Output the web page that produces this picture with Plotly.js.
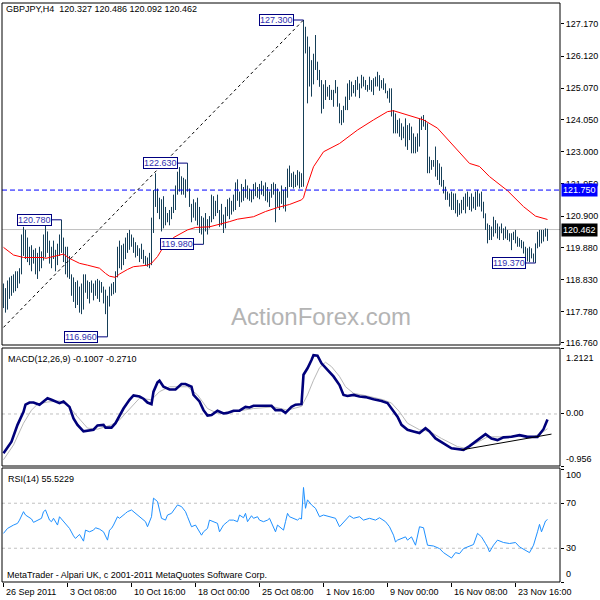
<!DOCTYPE html>
<html><head><meta charset="utf-8">
<script src="https://cdn.plot.ly/plotly-3.0.1.min.js"></script>
<style>html,body{margin:0;padding:0;background:#fff}#chart{width:600px;height:600px}</style>
</head><body><div id="chart"></div>
<script>
// ---------- data ----------
const HIGH = [
118.70,118.55,118.80,118.90,118.95,119.00,119.10,119.10,119.20,120.30,
120.55,120.45,120.20,119.90,119.95,119.80,119.85,119.70,119.90,119.75,
120.30,120.78,120.40,120.10,119.90,120.10,119.80,120.00,120.30,120.78,
120.20,119.90,119.90,119.60,119.00,118.90,118.75,118.80,118.60,118.70,
119.00,119.00,118.80,118.75,118.80,118.70,118.80,118.85,118.80,118.75,
118.60,118.50,118.30,118.60,118.70,118.75,119.10,119.90,120.10,119.95,
120.00,120.20,120.35,120.45,120.30,120.20,120.05,119.95,119.85,120.00,
119.80,119.60,119.55,119.70,120.85,121.75,122.30,121.80,121.50,121.45,
121.55,121.20,121.00,121.10,121.20,121.60,121.90,122.35,122.50,122.20,
122.15,122.10,122.63,121.80,121.30,121.45,121.35,121.50,121.20,120.90,
120.85,121.00,120.80,120.90,121.60,121.55,121.40,121.60,121.10,121.30,
120.95,121.20,121.45,121.50,121.40,121.60,122.00,122.10,121.70,121.95,
121.85,122.10,121.90,121.80,121.75,121.95,122.00,121.85,121.95,122.05,
121.90,122.00,121.85,121.70,121.95,122.00,121.95,121.80,121.70,121.90,
121.75,121.85,122.45,122.55,122.30,122.35,122.25,122.40,122.35,122.30,
127.30,127.08,126.76,126.43,125.99,126.20,126.81,125.94,125.67,125.34,
125.20,125.34,125.12,125.18,125.02,125.02,125.34,125.12,124.58,124.36,
124.50,124.80,125.23,125.34,125.29,125.18,125.34,125.45,125.23,125.51,
125.45,125.34,125.18,125.45,125.34,125.40,125.45,125.61,125.50,125.34,
125.40,125.23,124.99,125.07,125.07,124.36,124.25,124.04,124.09,123.93,
123.82,124.09,123.87,123.93,123.82,123.60,123.49,123.60,124.09,124.15,
124.20,124.04,123.93,122.84,122.73,122.73,123.17,122.73,122.62,122.51,
122.08,121.86,121.70,121.64,121.70,121.64,121.64,121.43,121.32,121.43,
121.53,121.64,121.70,121.53,121.64,121.53,121.70,121.75,121.64,121.70,
121.37,120.99,120.66,120.61,120.56,120.88,120.77,120.66,120.56,120.66,
120.50,120.56,120.45,120.34,120.34,120.39,120.45,120.23,120.18,120.12,
120.07,119.90,119.85,119.90,119.85,119.68,120.01,120.39,120.45,120.45,
120.45,120.50,120.486];
const LOW = [
117.90,117.75,117.85,118.20,118.30,118.40,118.45,118.55,118.70,119.00,
119.60,119.50,119.40,119.30,119.10,119.35,119.00,118.85,119.10,119.20,
119.45,119.55,119.70,119.35,119.20,119.50,119.10,119.30,119.60,119.70,
119.40,119.00,118.90,118.85,118.30,118.10,117.90,118.00,117.75,117.70,
117.85,118.40,118.20,118.05,118.40,118.15,118.30,118.20,118.10,118.40,
118.05,117.70,116.96,117.95,118.30,118.35,118.40,118.90,119.20,119.15,
119.30,119.50,119.70,119.80,119.90,119.70,119.55,119.60,119.40,119.50,
119.35,119.30,119.25,119.20,119.30,120.35,121.20,121.00,120.80,120.40,
120.50,120.60,120.70,120.60,120.80,121.00,121.10,121.60,121.70,121.60,
121.60,121.50,121.70,121.20,120.70,120.85,120.75,120.60,120.35,120.30,
119.98,120.40,120.30,120.50,120.70,120.80,120.90,121.00,120.55,120.60,
120.35,120.50,120.90,120.80,120.95,121.05,121.10,121.40,121.20,121.35,
121.40,121.50,121.45,121.40,121.35,121.45,121.55,121.50,121.45,121.60,
121.55,121.40,121.35,121.20,121.50,121.60,120.70,121.20,121.10,121.30,
121.15,121.05,121.50,121.85,121.85,121.80,121.85,121.90,121.80,121.85,
121.86,126.21,124.58,125.13,124.80,125.20,125.67,125.34,125.12,124.25,
124.40,124.69,124.80,124.69,124.69,124.47,124.91,124.47,123.93,123.87,
123.95,124.36,124.36,124.69,124.80,124.91,124.80,125.02,124.75,125.07,
125.13,125.02,124.96,125.02,124.96,124.85,125.13,125.13,124.99,125.07,
125.02,124.91,124.74,124.60,124.15,123.60,123.60,123.60,123.49,123.38,
123.44,123.17,123.06,123.38,122.95,122.95,122.95,123.00,123.17,123.71,
123.82,123.71,122.30,122.30,122.41,122.51,122.19,122.08,121.92,121.86,
121.64,121.43,121.43,121.21,121.10,121.10,120.99,120.88,120.94,120.99,
121.10,120.99,121.21,121.10,121.05,121.15,121.10,121.21,121.21,121.05,
120.83,120.45,120.01,120.12,120.12,120.23,120.34,120.17,120.12,120.34,
120.12,120.17,120.12,120.07,119.79,120.12,120.01,119.90,119.90,119.85,
119.68,119.47,119.42,119.40,119.52,119.39,119.37,119.85,119.90,120.01,
120.07,120.23,120.092];

const MA_BAR = [0,5,10,20,21,27,30,33,38,42,48,51,53,56,58,62,65,68,72,74,77,80,85,92,96,103,108,113,117,125,131,137,143,149,150,151,155,160,168,177,185,192,195,202,210,217,223,233,238,243,252,260,266,271,272];
const MA_VAL = [119.88,119.63,119.55,119.55,119.52,119.63,119.66,119.52,119.36,119.30,119.20,119.03,118.94,118.90,119.01,119.16,119.25,119.27,119.30,119.36,119.58,119.90,120.20,120.45,120.53,120.55,120.63,120.72,120.80,120.88,121.05,121.18,121.28,121.43,121.50,121.74,122.51,123.00,123.27,123.71,124.04,124.31,124.34,124.20,124.04,123.77,123.35,122.62,122.52,122.19,121.73,121.21,120.90,120.81,120.79];

const MACD_BAR = [0,4,7,10,11,13,15,18,20,22,24,26,28,30,33,35,37,40,42,45,47,50,51,54,56,58,60,63,65,68,70,72,74,75,77,78,80,83,86,89,91,94,95,98,100,102,104,107,110,112,115,118,121,123,125,130,134,136,139,141,144,146,149,150,152,154,155,157,159,162,165,168,170,172,175,178,181,185,189,192,194,197,199,202,205,208,211,213,216,220,224,230,233,237,241,244,247,250,254,258,262,267,270,272];
const MACD_VAL = [-0.72,-0.51,-0.20,0.04,0.17,0.21,0.21,0.17,0.23,0.29,0.26,0.23,0.20,0.23,0.13,-0.08,-0.20,-0.32,-0.31,-0.29,-0.21,-0.20,-0.25,-0.25,-0.17,-0.02,0.10,0.26,0.34,0.32,0.28,0.21,0.18,0.41,0.58,0.61,0.50,0.45,0.45,0.55,0.55,0.50,0.35,0.23,0.07,-0.03,-0.02,0.06,0.01,0.02,0.06,0.06,0.13,0.12,0.15,0.15,0.15,0.07,0.07,0.02,0.13,0.17,0.18,0.72,0.84,0.99,1.08,1.07,0.93,0.81,0.69,0.53,0.35,0.33,0.35,0.32,0.31,0.27,0.24,0.20,0.10,-0.05,-0.20,-0.29,-0.32,-0.35,-0.26,-0.32,-0.45,-0.54,-0.63,-0.66,-0.59,-0.48,-0.37,-0.45,-0.48,-0.43,-0.42,-0.39,-0.42,-0.42,-0.28,-0.10];

const SIG_BAR = [0,5,10,14,17,22,28,32,37,42,47,54,58,63,68,74,78,83,92,97,102,107,115,125,135,142,149,152,155,158,161,164,168,171,175,182,190,194,198,202,208,213,219,227,231,236,242,248,257,265,269,272];
const SIG_VAL = [-0.84,-0.57,-0.17,0.07,0.18,0.22,0.24,0.17,-0.05,-0.26,-0.28,-0.20,-0.11,0.10,0.29,0.26,0.41,0.50,0.50,0.35,0.10,0.01,0.04,0.10,0.13,0.07,0.14,0.35,0.62,0.85,0.95,0.87,0.69,0.50,0.38,0.33,0.26,0.20,0.04,-0.17,-0.29,-0.32,-0.45,-0.60,-0.63,-0.54,-0.42,-0.42,-0.40,-0.42,-0.35,-0.27];

const RSI_BAR = [0,2,5,7,8,10,11,13,14,15,17,19,20,21,23,24,25,27,28,30,31,33,35,36,38,40,41,43,45,46,48,50,52,53,54,55,57,58,61,62,64,66,68,71,72,74,75,77,78,79,81,82,84,86,87,89,91,92,94,96,97,99,100,102,103,105,107,108,110,112,113,115,117,118,120,121,122,124,125,127,128,130,132,133,135,136,137,138,140,141,142,143,145,147,148,149,150,151,152,154,156,158,160,163,166,168,171,173,175,178,180,183,186,188,191,193,195,196,197,199,201,202,204,206,208,210,212,215,218,220,224,226,228,230,233,235,237,239,241,242,243,245,247,250,253,256,258,261,263,265,266,267,268,269,271,272];
const RSI_VAL = [43.2,47.6,50.6,52.1,55,62.5,59.5,56.6,56,53,55,56.6,62.5,64,55,53.6,56.6,50.6,58,53.6,52.1,47.6,41,38.7,42.3,36.3,46.1,44.6,46.1,48.2,47,44.6,37.2,46.1,47.6,50.6,58,56.6,61,62.5,64,61,58,53.6,49.1,58,74.5,71.5,64,56.6,55,59.5,61,65.5,68.5,67,62.5,58,49.1,50.6,47.6,41.6,44.6,47.6,55,53.6,52.1,44.6,50.6,53.6,55,55,53.6,59.5,57.1,61,53.6,58.9,56.6,58,55,53.6,55,56.6,49.1,44.6,50.6,49.1,46.1,53.6,61,58,56.6,55,56.6,56,84,65.5,73,68.5,65.5,58,59.5,58,56.6,49.1,55,58.9,56.6,58,55,56.6,55,57.1,53.6,49.1,41.6,35.6,37.2,38.7,40.1,37.2,40.1,32.7,49.1,48.2,32.7,32,29.7,26.1,21.3,26.1,25.2,29.7,32,33.3,43.2,40.1,34.2,31.2,26.7,32.7,37.2,35.1,34.2,35.1,31.2,28.2,26.1,32.7,38,44.6,51.2,44.6,54.2,55.5];

const DATE_TICK_BARS = [0,32,64,96,128,160,192,224,256];
const DATE_LABELS = ['26 Sep 2011','3 Oct 08:00','10 Oct 16:00','18 Oct 00:00','25 Oct 08:00','1 Nov 16:00','9 Nov 00:00','16 Nov 08:00','23 Nov 16:00'];
const PRICE_TICKS = [127.170,126.120,125.070,124.050,123.000,121.950,120.900,119.880,118.830,117.780,116.760];
const MACD_TICKS = [1.2121,0,-0.956];
const MACD_TICK_TEXT = ['1.2121','0.00','-0.956'];
const RSI_TICKS = [100,70,30,0];

const MARK_BARS = [29,52,92,100,150,266];
const MARK_PRICES = [120.780,116.960,122.630,119.980,127.300,119.370];

const LAST_OPEN = 120.327, LAST_HIGH = 120.486, LAST_LOW = 120.092, LAST_CLOSE = 120.462;
const HLINE_PRICE = 121.750;
const TREND_BARS = [0,150], TREND_PRICES = [117.27,127.30];
const MACD_TREND_BARS = [229,274], MACD_TREND_VALS = [-0.66,-0.37];
const MACD_NOW = -0.1007, SIGNAL_NOW = -0.2710, RSI_NOW = 55.5229;

// ---------- layout helpers ----------
const L = 2, T = 3, W = 558, H = 579;
const px = x => (x - L) / W;
const py = y => (T + H - y) / H;
const FONT = 'Liberation Sans, Arial, sans-serif';

// bars (high-low verticals)
const bx = [], by = [];
for (let i = 0; i < HIGH.length; i++) { bx.push(i, i, null); by.push(LOW[i], HIGH[i], null); }

const traces = [
  {type:'scatter', mode:'lines', x:bx, y:by, xaxis:'x', yaxis:'y', line:{color:'#163f58', width:1}, hoverinfo:'skip'},
  {type:'scatter', mode:'lines', x:MA_BAR, y:MA_VAL, xaxis:'x', yaxis:'y', line:{color:'#ff0000', width:1}, hoverinfo:'skip'},
  {type:'scatter', mode:'lines', x:SIG_BAR, y:SIG_VAL, xaxis:'x', yaxis:'y2', line:{color:'#b8b8b8', width:1}, hoverinfo:'skip'},
  {type:'scatter', mode:'lines', x:MACD_BAR, y:MACD_VAL, xaxis:'x', yaxis:'y2', line:{color:'#00007a', width:2.6}, hoverinfo:'skip'},
  {type:'scatter', mode:'lines', x:RSI_BAR, y:RSI_VAL, xaxis:'x', yaxis:'y3', line:{color:'#1e90ff', width:1}, hoverinfo:'skip'}
];

const shapes = [
  {type:'line', xref:'paper', x0:0, x1:1, yref:'y', y0:LAST_CLOSE, y1:LAST_CLOSE, line:{color:'#c0c0c0', width:1}, layer:'below'},
  {type:'line', xref:'paper', x0:0, x1:1, yref:'y', y0:HLINE_PRICE, y1:HLINE_PRICE, line:{color:'#0000ff', width:1, dash:'5px,3px'}},
  {type:'line', xref:'x', x0:TREND_BARS[0], x1:TREND_BARS[1], yref:'y', y0:TREND_PRICES[0], y1:TREND_PRICES[1], line:{color:'#000', width:1, dash:'3px,3px'}},
  {type:'line', xref:'paper', x0:0, x1:1, yref:'y2', y0:0, y1:0, line:{color:'#c0c0c0', width:1, dash:'3px,3px'}, layer:'below'},
  {type:'line', xref:'x', x0:MACD_TREND_BARS[0], x1:MACD_TREND_BARS[1], yref:'y2', y0:MACD_TREND_VALS[0], y1:MACD_TREND_VALS[1], line:{color:'#000', width:1}},
  {type:'line', xref:'paper', x0:0, x1:1, yref:'y3', y0:70, y1:70, line:{color:'#c0c0c0', width:1, dash:'3px,3px'}, layer:'below'},
  {type:'line', xref:'paper', x0:0, x1:1, yref:'y3', y0:30, y1:30, line:{color:'#c0c0c0', width:1, dash:'3px,3px'}, layer:'below'},
  {type:'rect', xref:'paper', x0:0, x1:1, yref:'y domain', y0:0, y1:1, line:{color:'#000', width:1}},
  {type:'rect', xref:'paper', x0:0, x1:1, yref:'y2 domain', y0:0, y1:1, line:{color:'#000', width:1}},
  {type:'rect', xref:'paper', x0:0, x1:1, yref:'y3 domain', y0:0, y1:1, line:{color:'#000', width:1}}
];

const ann = [];
const txt = (text, x, y, opts) => Object.assign({text, x, y, xref:'paper', yref:'paper', xanchor:'left', yanchor:'middle', showarrow:false, font:{family:FONT, size:9, color:'#000'}}, opts || {});

ann.push(txt('GBPJPY,H4\u00a0\u00a0' + [LAST_OPEN, LAST_HIGH, LAST_LOW, LAST_CLOSE].map(v => v.toFixed(3)).join(' '), px(4), py(9)));
ann.push(txt('MACD(12,26,9) ' + MACD_NOW.toFixed(4) + ' ' + SIGNAL_NOW.toFixed(4), px(6), py(359)));
ann.push(txt('RSI(14) ' + RSI_NOW.toFixed(4), px(6), py(478.5)));
ann.push(txt('MetaTrader - Alpari UK, c 2001-2011 MetaQuotes Software Corp.', px(5), py(574.5)));
ann.push(txt('ActionForex.com', px(321), py(316), {xanchor:'center', font:{family:FONT, size:24, color:'#b4b4b4'}}));

// right labels for MACD / RSI panes
const macdLabelY = [358, 413.5, 458.5];
MACD_TICK_TEXT.forEach((t, k) => ann.push(txt(t, px(564), py(macdLabelY[k]))));
const rsiLabelY = [475, 503.3, 548.2, 573.5];
RSI_TICKS.forEach((v, k) => ann.push(txt(String(v), px(564), py(rsiLabelY[k]))));

// date labels
DATE_TICK_BARS.forEach((b, k) => ann.push({text:DATE_LABELS[k], x:b, y:py(592), xref:'x', yref:'paper', xanchor:'left', yanchor:'middle', showarrow:false, font:{family:FONT, size:9, color:'#000'}}));

// price badges on the right axis
ann.push({text:HLINE_PRICE.toFixed(3), x:1, y:HLINE_PRICE, xref:'paper', yref:'y', xanchor:'left', yanchor:'middle', xshift:1, showarrow:false, bgcolor:'#0000ff', borderpad:1, font:{family:FONT, size:9, color:'#fff'}});
ann.push({text:LAST_CLOSE.toFixed(3), x:1, y:LAST_CLOSE, xref:'paper', yref:'y', xanchor:'left', yanchor:'middle', xshift:1, showarrow:false, bgcolor:'#000000', borderpad:1, font:{family:FONT, size:9, color:'#fff'}});

// high/low price markers with connectors
MARK_BARS.forEach((b, k) => {
  const p = MARK_PRICES[k];
  ann.push({text:p.toFixed(3), x:b, y:p, xref:'x', yref:'y', xanchor:'right', yanchor:'middle', xshift:-10, showarrow:false,
            bgcolor:'#ffffff', bordercolor:'#000080', borderwidth:1, borderpad:0, font:{family:FONT, size:9, color:'#3030b0'}});
  shapes.push({type:'line', xref:'x', x0:b - 5, x1:b, yref:'y', y0:p, y1:p, line:{color:'#000080', width:1}});
});

const layout = {
  width:600, height:600, margin:{l:L, r:40, t:T, b:18, pad:0},
  paper_bgcolor:'#fff', plot_bgcolor:'#fff', showlegend:false,
  font:{family:FONT, size:9, color:'#000'},
  xaxis:{domain:[0,1], range:[-0.75, 278.25], anchor:'y3', showgrid:false, zeroline:false, showline:false,
         ticks:'outside', ticklen:4, tickcolor:'#000', tickvals:DATE_TICK_BARS, showticklabels:false, fixedrange:true},
  yaxis:{domain:[py(345), 1], range:[116.694, 127.855], side:'right', anchor:'x', showgrid:false, zeroline:false, showline:false,
         tickvals:PRICE_TICKS, ticktext:PRICE_TICKS.map(v => v.toFixed(3)), ticks:'outside', ticklen:3, tickcolor:'#000',
         tickfont:{family:FONT, size:9, color:'#000'}},
  yaxis2:{domain:[py(466), py(348)], range:[-0.956, 1.2121], side:'right', anchor:'x', showgrid:false, zeroline:false,
          tickvals:MACD_TICKS, showticklabels:false, ticks:'outside', ticklen:3, tickcolor:'#000'},
  yaxis3:{domain:[0, py(468)], range:[0, 101.3], side:'right', anchor:'x', showgrid:false, zeroline:false,
          tickvals:RSI_TICKS, showticklabels:false, ticks:'outside', ticklen:3, tickcolor:'#000'},
  shapes:shapes, annotations:ann
};

Plotly.newPlot('chart', traces, layout, {staticPlot:true, displayModeBar:false});
</script>
</body></html>
